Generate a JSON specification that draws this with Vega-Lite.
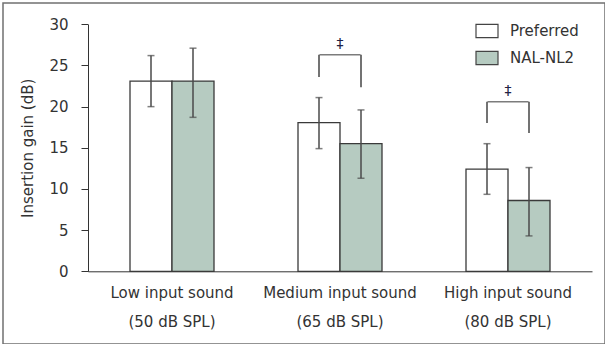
{
  "$schema": "https://vega.github.io/schema/vega-lite/v6.json",
  "autosize": {"type": "none"},
  "padding": {"left": 3, "top": 3, "right": 0, "bottom": 0},
  "width": 602,
  "height": 341,
  "background": "white",
  "config": {
    "font": "DejaVu Sans",
    "view": {"stroke": "#707070", "strokeWidth": 1.5},
    "axis": {"labelColor": "#333333", "titleColor": "#333333", "grid": false, "domainColor": "#333333", "tickColor": "#333333"}
  },
  "datasets": {
    "bars": [
      {"condition": "Low input sound (50 dB SPL)", "series": "Preferred", "gain": 23.1, "lo": 20.0, "hi": 26.2},
      {"condition": "Low input sound (50 dB SPL)", "series": "NAL-NL2", "gain": 23.1, "lo": 18.7, "hi": 27.1},
      {"condition": "Medium input sound (65 dB SPL)", "series": "Preferred", "gain": 18.05, "lo": 14.9, "hi": 21.1},
      {"condition": "Medium input sound (65 dB SPL)", "series": "NAL-NL2", "gain": 15.5, "lo": 11.3, "hi": 19.6},
      {"condition": "High input sound (80 dB SPL)", "series": "Preferred", "gain": 12.4, "lo": 9.35, "hi": 15.5},
      {"condition": "High input sound (80 dB SPL)", "series": "NAL-NL2", "gain": 8.6, "lo": 4.3, "hi": 12.6}
    ],
    "legs": [
      {"condition": "Medium input sound (65 dB SPL)", "series": "Preferred", "bottom": 23.6, "top": 26.3},
      {"condition": "Medium input sound (65 dB SPL)", "series": "NAL-NL2", "bottom": 22.35, "top": 26.3},
      {"condition": "High input sound (80 dB SPL)", "series": "Preferred", "bottom": 18.0, "top": 20.6},
      {"condition": "High input sound (80 dB SPL)", "series": "NAL-NL2", "bottom": 16.8, "top": 20.6}
    ],
    "sig": [
      {"condition": "Medium input sound (65 dB SPL)", "bar": 26.3, "mark": 27.6, "label": "‡"},
      {"condition": "High input sound (80 dB SPL)", "bar": 20.6, "mark": 21.9, "label": "‡"}
    ]
  },
  "encoding": {
    "x": {
      "field": "condition", "type": "nominal", "sort": null,
      "scale": {"domain": ["Low input sound (50 dB SPL)", "Medium input sound (65 dB SPL)", "High input sound (80 dB SPL)"], "range": [85, 589], "paddingInner": 0, "paddingOuter": 0},
      "axis": {
        "title": null, "offset": -72.7, "labelAngle": 0, "ticks": false, "labelFontSize": 15, "labelPadding": 14, "labelLineHeight": 29,
        "labelExpr": "[slice(datum.label, 0, indexof(datum.label, ' (')), slice(datum.label, indexof(datum.label, ' (') + 1)]"
      }
    }
  },
  "layer": [
    {
      "data": {"name": "bars"},
      "mark": {"type": "bar", "stroke": "#3a3a3a", "strokeWidth": 1.3},
      "encoding": {
        "xOffset": {"field": "series", "type": "nominal", "sort": null, "scale": {"domain": ["Preferred", "NAL-NL2"], "paddingInner": 0, "paddingOuter": 1.05}},
        "y": {
          "field": "gain", "type": "quantitative",
          "scale": {"domain": [0, 30], "range": [268.3, 21.3], "nice": false},
          "axis": {"title": "Insertion gain (dB)", "titleFontSize": 15, "titleFontWeight": "normal", "titlePadding": 13, "offset": -85, "values": [0, 5, 10, 15, 20, 25, 30], "labelFontSize": 15, "tickSize": 7, "labelPadding": 13}
        },
        "fill": {
          "field": "series", "type": "nominal",
          "scale": {"domain": ["Preferred", "NAL-NL2"], "range": ["#ffffff", "#b6cbc1"]},
          "legend": {
            "title": null, "orient": "none", "legendX": 472, "legendY": 16, "padding": 0,
            "symbolType": "M-1,-0.6H1V0.6H-1Z", "symbolSize": 484, "symbolStrokeColor": "#444444", "symbolStrokeWidth": 1.2,
            "labelFontSize": 15, "labelColor": "#333333", "labelOffset": 11, "rowPadding": 6
          }
        }
      }
    },
    {
      "data": {"name": "bars"},
      "mark": {"type": "rule", "color": "#4a4a4a", "strokeWidth": 1.5},
      "encoding": {
        "xOffset": {"field": "series", "type": "nominal", "sort": null},
        "y": {"field": "lo", "type": "quantitative"},
        "y2": {"field": "hi"}
      }
    },
    {
      "data": {"name": "bars"},
      "mark": {"type": "tick", "color": "#4a4a4a", "thickness": 1.5, "size": 7},
      "encoding": {
        "xOffset": {"field": "series", "type": "nominal", "sort": null},
        "y": {"field": "lo", "type": "quantitative"}
      }
    },
    {
      "data": {"name": "bars"},
      "mark": {"type": "tick", "color": "#4a4a4a", "thickness": 1.5, "size": 7},
      "encoding": {
        "xOffset": {"field": "series", "type": "nominal", "sort": null},
        "y": {"field": "hi", "type": "quantitative"}
      }
    },
    {
      "data": {"name": "legs"},
      "mark": {"type": "rule", "color": "#444444", "strokeWidth": 1.5},
      "encoding": {
        "xOffset": {"field": "series", "type": "nominal", "sort": null},
        "y": {"field": "bottom", "type": "quantitative"},
        "y2": {"field": "top"}
      }
    },
    {
      "data": {"name": "sig"},
      "mark": {"type": "tick", "color": "#444444", "thickness": 1.5, "size": 41},
      "encoding": {
        "y": {"field": "bar", "type": "quantitative"}
      }
    },
    {
      "data": {"name": "sig"},
      "mark": {"type": "text", "fontSize": 14, "color": "#222244", "baseline": "middle", "align": "center"},
      "encoding": {
        "y": {"field": "mark", "type": "quantitative"},
        "text": {"field": "label"}
      }
    }
  ]
}
